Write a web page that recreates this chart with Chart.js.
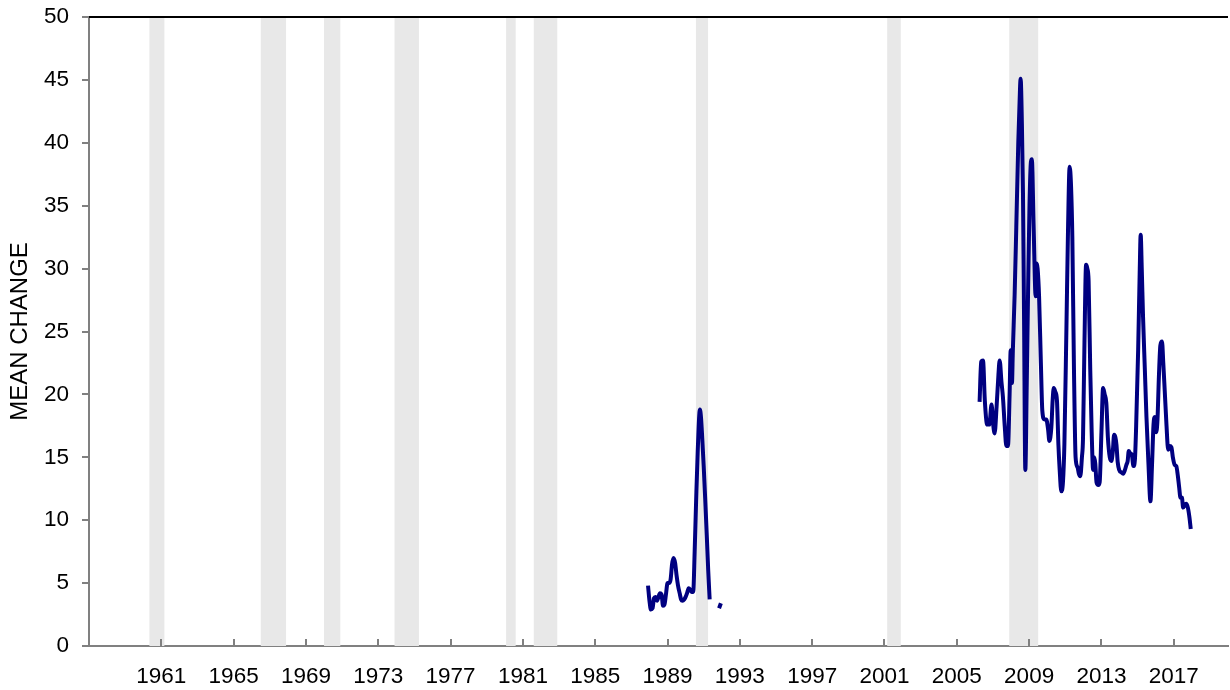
<!DOCTYPE html>
<html>
<head>
<meta charset="utf-8">
<script src="https://cdn.jsdelivr.net/npm/chart.js@4"></script>
<style>
  html, body { margin: 0; padding: 0; background: #fff; }
  #wrap { width: 1230px; height: 690px; }
</style>
</head>
<body>
<div id="wrap"><canvas id="chart" width="1230" height="690"></canvas></div>
<script>
// decimal years and the mean change; null = gap in the series
const years = [
  1987.92, 1988.0, 1988.08, 1988.17, 1988.25, 1988.33, 1988.42, 1988.5, 1988.58, 1988.67, 1988.75, 1988.83,
  1988.92, 1989.0, 1989.08, 1989.17, 1989.25, 1989.33, 1989.42, 1989.5, 1989.58, 1989.67, 1989.75, 1989.83,
  1989.92, 1990.0, 1990.08, 1990.17, 1990.25, 1990.33, 1990.42, 1990.5, 1990.58, 1990.67, 1990.79, 1990.85,
  1990.92, 1991.0, 1991.08, 1991.17, 1991.25, 1991.33,
  1991.6,
  1991.85, 1991.95,
  1999.0,
  2006.26, 2006.35, 2006.45, 2006.55, 2006.68, 2006.8, 2006.92, 2007.02, 2007.09, 2007.2, 2007.3, 2007.37,
  2007.47, 2007.55, 2007.65, 2007.74, 2007.83, 2007.92, 2007.98, 2008.05, 2008.1, 2008.2, 2008.29, 2008.4,
  2008.5, 2008.53, 2008.6, 2008.66, 2008.72, 2008.79, 2008.87, 2008.94, 2009.02, 2009.1, 2009.15, 2009.25,
  2009.36, 2009.42, 2009.47, 2009.55, 2009.65, 2009.73, 2009.85, 2009.95, 2010.05, 2010.12, 2010.23, 2010.3,
  2010.36, 2010.45, 2010.54, 2010.62, 2010.69, 2010.78, 2010.87, 2010.95, 2011.06, 2011.15, 2011.24, 2011.32,
  2011.39, 2011.48, 2011.57, 2011.68, 2011.75, 2011.83, 2011.92, 2011.98, 2012.06, 2012.15, 2012.22, 2012.29,
  2012.38, 2012.46, 2012.54, 2012.6, 2012.66, 2012.73, 2012.83, 2012.9, 2013.0, 2013.09, 2013.18, 2013.27,
  2013.36, 2013.46, 2013.55, 2013.63, 2013.7, 2013.77, 2013.83, 2013.9, 2013.98, 2014.1, 2014.2, 2014.3,
  2014.38, 2014.45, 2014.51, 2014.6, 2014.68, 2014.77, 2014.85, 2014.92, 2015.03, 2015.12, 2015.17, 2015.23,
  2015.3, 2015.4, 2015.49, 2015.6, 2015.71, 2015.8, 2015.88, 2015.95, 2016.03, 2016.1, 2016.18, 2016.26,
  2016.35, 2016.42, 2016.5, 2016.6, 2016.69, 2016.78, 2016.87, 2016.95, 2017.05, 2017.14, 2017.22, 2017.3,
  2017.37, 2017.45, 2017.52, 2017.6, 2017.68, 2017.78, 2017.87, 2017.94
];
const meanChange = [
  4.8, 3.6, 2.9, 3.0, 3.8, 3.9, 3.6, 3.9, 4.2, 4.1, 3.2, 3.3,
  4.2, 5.0, 5.0, 5.3, 6.5, 7.0, 6.6, 5.6, 4.8, 4.2, 3.7, 3.6,
  3.7, 3.9, 4.2, 4.6, 4.5, 4.3, 4.3, 7.5, 11.5, 15.5, 18.8, 18.2,
  16.5, 14.3, 11.8, 8.8, 6.0, 3.7,
  null,
  3.0, 3.4,
  null,
  19.4, 22.6, 22.7, 19.5, 17.6, 17.6, 19.2, 17.5, 16.9, 19.0, 21.5, 22.7,
  21.0, 19.8, 17.5, 15.9, 15.9, 20.0, 23.5, 20.9, 23.5, 28.0, 33.3, 40.0,
  44.5, 45.1, 41.5, 36.0, 26.0, 14.0, 21.0, 28.0, 35.0, 38.5, 38.7, 33.3,
  27.8, 30.4, 30.0, 27.8, 22.5, 18.7, 18.0, 18.0, 17.2, 16.3, 17.4, 19.5,
  20.5, 20.2, 19.5, 16.0, 14.0, 12.3, 13.0, 16.0, 25.0, 33.0, 38.1, 36.5,
  32.5, 22.0, 15.0, 14.2, 13.7, 13.5, 15.0, 16.5, 24.0, 30.3, 30.0, 29.0,
  22.0, 17.0, 14.0, 15.0, 14.5, 13.0, 12.8, 13.0, 17.0, 20.5, 20.0, 19.3,
  16.5, 15.0, 14.7, 15.5, 16.8, 16.6, 16.0, 14.6, 14.0, 13.8, 13.7, 14.0,
  14.4, 14.7, 15.5, 15.3, 15.2, 14.3, 14.8, 17.5, 23.5, 30.0, 32.7, 30.0,
  26.2, 22.0, 18.2, 14.5, 11.5, 14.5, 17.6, 18.2, 17.0, 18.0, 21.5, 23.9,
  24.2, 22.5, 20.3, 17.5, 15.6, 15.9, 15.8, 15.0, 14.4, 14.3, 13.6, 12.6,
  11.8, 11.8, 11.0, 11.2, 11.3, 11.0, 10.2, 9.3
];

// shaded periods
const shadeStart = [1960.34, 1966.5, 1970.0, 1973.9, 1980.07, 1981.6, 1990.57, 2001.15, 2007.9];
const shadeEnd   = [1961.17, 1967.9, 1970.9, 1975.25, 1980.6, 1982.9, 1991.24, 2001.9, 2009.5];

const tickYears = [1961, 1965, 1969, 1973, 1977, 1981, 1985, 1989, 1993, 1997, 2001, 2005, 2009, 2013, 2017];

const FONT = "'Liberation Sans', Arial, sans-serif";

const shading = {
  id: "shading",
  beforeDatasetsDraw(chart) {
    const {ctx, chartArea, scales} = chart;
    ctx.save();
    ctx.fillStyle = "#e8e8e8";
    for (let i = 0; i < shadeStart.length; i++) {
      const x0 = scales.x.getPixelForValue(shadeStart[i]);
      const x1 = scales.x.getPixelForValue(shadeEnd[i]);
      ctx.fillRect(x0, chartArea.top, x1 - x0, chartArea.bottom - chartArea.top);
    }
    ctx.restore();
  },
  afterDraw(chart) {
    const {ctx, chartArea, scales} = chart;
    ctx.save();
    // top frame line
    ctx.strokeStyle = "#000";
    ctx.lineWidth = 2;
    ctx.beginPath();
    ctx.moveTo(chartArea.left, chartArea.top);
    ctx.lineTo(chartArea.right, chartArea.top);
    ctx.stroke();
    // x ticks point inward
    ctx.strokeStyle = "#808080";
    ctx.lineWidth = 2;
    scales.x.ticks.forEach(t => {
      const x = Math.round(scales.x.getPixelForValue(t.value));
      ctx.beginPath();
      ctx.moveTo(x, chartArea.bottom);
      ctx.lineTo(x, chartArea.bottom - 7);
      ctx.stroke();
    });
    ctx.restore();
  }
};

new Chart(document.getElementById("chart"), {
  type: "line",
  data: {
    datasets: [{
      label: "Mean change",
      data: years.map((x, i) => ({x: x, y: meanChange[i]})),
      borderColor: "#000080",
      borderWidth: 4,
      pointRadius: 0,
      spanGaps: false,
      cubicInterpolationMode: "monotone",
      fill: false
    }]
  },
  options: {
    responsive: false,
    animation: false,
    layout: {padding: {left: 1, right: 2, top: 17, bottom: 0}},
    plugins: {legend: {display: false}, tooltip: {enabled: false}},
    scales: {
      x: {
        type: "linear",
        min: 1957,
        max: 2020,
        afterBuildTicks: scale => { scale.ticks = tickYears.map(v => ({value: v})); },
        afterFit: scale => { scale.height = 44; scale.paddingLeft = 0; scale.paddingRight = 0; },
        grid: {display: true, drawOnChartArea: false, drawTicks: false},
        border: {display: true, color: "#808080", width: 2},
        ticks: {
          color: "#000",
          padding: 17,
          maxRotation: 0,
          autoSkip: false,
          font: {family: FONT, size: 22.5},
          callback: v => String(v)
        }
      },
      y: {
        min: 0,
        max: 50,
        afterFit: scale => { scale.width = 88; scale.paddingTop = 0; scale.paddingBottom = 0; },
        grid: {drawOnChartArea: false, drawTicks: true, tickLength: 7, color: "#808080", lineWidth: 2},
        border: {display: true, color: "#808080", width: 2},
        ticks: {
          stepSize: 5,
          color: "#000",
          padding: 13,
          font: {family: FONT, size: 22.5}
        },
        title: {
          display: true,
          text: "MEAN CHANGE",
          color: "#000",
          padding: {top: 5, bottom: 0},
          font: {family: FONT, size: 24}
        }
      }
    }
  },
  plugins: [shading]
});
</script>
</body>
</html>
